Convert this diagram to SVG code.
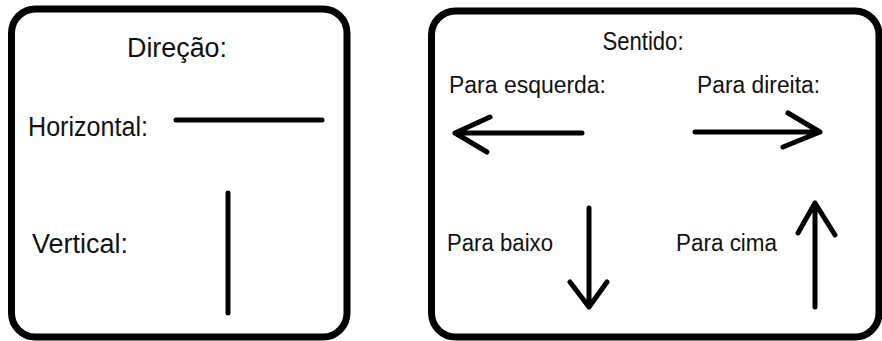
<svg xmlns="http://www.w3.org/2000/svg" width="882" height="341" viewBox="0 0 882 341">
<defs>
<style>
.box{fill:#fff;stroke:#000;stroke-width:7}
.ln{fill:none;stroke:#000;stroke-width:5;stroke-linecap:round;stroke-linejoin:round}
.t{font-family:"Liberation Sans",Arial,sans-serif;fill:#111}
.tl{font-size:25px}
.tr{font-size:23px}
</style>
</defs>
<rect width="882" height="341" fill="#fff"/>
<g id="direcao">
<rect class="box" x="11.5" y="9" width="335.5" height="328" rx="24" ry="24"/>
<text class="t tl" transform="translate(177 57) scale(1 1.08)" text-anchor="middle" textLength="100" lengthAdjust="spacingAndGlyphs">Direção:</text>
</g>
<g id="horizontal">
<text class="t tl" transform="translate(28 136) scale(1 1.08)" textLength="120" lengthAdjust="spacingAndGlyphs">Horizontal:</text>
<line class="ln" x1="176" y1="120" x2="322" y2="120"/>
</g>
<g id="vertical">
<text class="t tl" transform="translate(32 253) scale(1 1.08)" textLength="96" lengthAdjust="spacingAndGlyphs">Vertical:</text>
<line class="ln" x1="228" y1="193" x2="228" y2="313"/>
</g>
<g id="sentido">
<rect class="box" x="431.5" y="11" width="447.5" height="326" rx="24" ry="24"/>
<text class="t tr" transform="translate(643 50) scale(1 1.1)" text-anchor="middle" textLength="81" lengthAdjust="spacingAndGlyphs">Sentido:</text>
</g>
<g id="esquerda">
<text class="t tr" transform="translate(449 93) scale(1 1.08)" textLength="157" lengthAdjust="spacingAndGlyphs">Para esquerda:</text>
</g>
<g id="direita">
<text class="t tr" transform="translate(697 93) scale(1 1.08)" textLength="123" lengthAdjust="spacingAndGlyphs">Para direita:</text>
</g>
<g id="baixo">
<text class="t tr" transform="translate(447 251) scale(1 1.08)" textLength="106" lengthAdjust="spacingAndGlyphs">Para baixo</text>
</g>
<g id="cima">
<text class="t tr" transform="translate(676 251) scale(1 1.08)" textLength="101" lengthAdjust="spacingAndGlyphs">Para cima</text>
</g>
<g id="connectors">
<path class="ln" d="M582 133 H455 M490 117 L455 133 L487 152"/>
<path class="ln" d="M695 132 H820 M788 113 L820 132 L783 147"/>
<path class="ln" d="M589 208 V307 M570 282 L589 307 L607 282"/>
<path class="ln" d="M815 307 V203 M798 233 L815 203 L835 235"/>
</g>
</svg>
